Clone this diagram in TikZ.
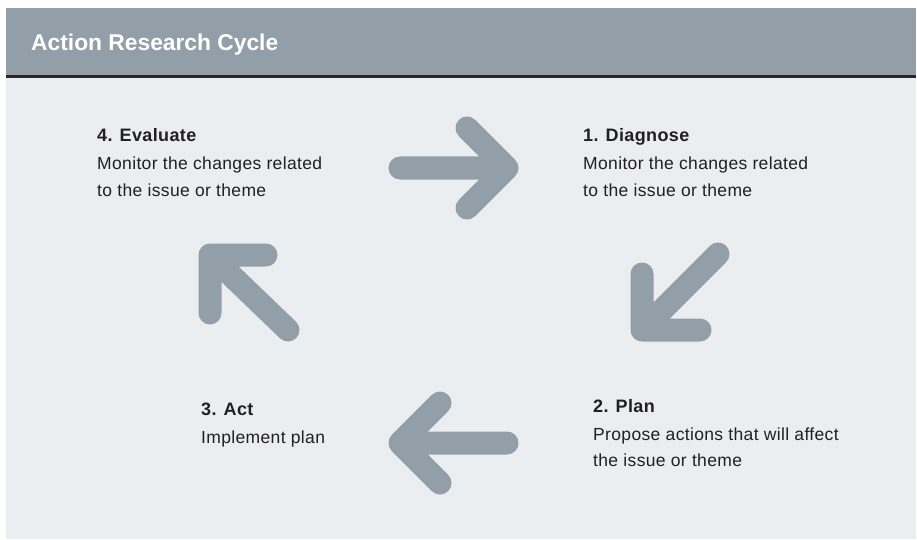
\documentclass[tikz,border=0pt]{standalone}
\usepackage{fontspec}
\setmainfont{Liberation Sans}[LetterSpace=2]
\newfontfamily\titlefont{Liberation Sans}
\usepackage{tikz}

\definecolor{bandgray}{HTML}{939FA8}
\definecolor{panelgray}{HTML}{EAEEF1}
\definecolor{rulegray}{HTML}{262626}
\definecolor{inkgray}{HTML}{231F20}

\tikzset{
  cyclearrow/.style={draw=bandgray,line width=23pt,line cap=round,line join=round},
  stephead/.style={anchor=base west,inner sep=0pt,text=inkgray,font=\bfseries\fontsize{18}{26}\selectfont},
  stepbody/.style={anchor=base west,inner sep=0pt,align=left,text=inkgray,font=\fontsize{17.5}{26}\selectfont}
}

\begin{document}
\begin{tikzpicture}[x=1pt,y=-1pt]
        \useasboundingbox (0,0) rectangle (917,540);
        \fill[white] (0,0) rectangle (917,540);

        % panel, header band and rule
        \fill[panelgray] (6,78) rectangle (916,539);
        \fill[bandgray] (6,8) rectangle (916,75);
        \fill[rulegray] (6,75) rectangle (916,78);
        \node[anchor=base west,inner sep=0pt,text=white,font=\titlefont\bfseries\fontsize{22.8}{26}\selectfont] (title) at (31,51) {Action Research Cycle};

        % arrows
        \draw[cyclearrow] (400,168) -- (507,168) (467,128) -- (507,168) -- (467,208);
        \draw[cyclearrow] (718,254) -- (642,330) (642,274) -- (642,330) -- (700,330);
        \draw[cyclearrow] (507,443) -- (400,443) (440,403) -- (400,443) -- (440,483);
        \draw[cyclearrow] (288,330) -- (210,255) (266,255) -- (210,255) -- (210,313);

        % steps (two-line texts sit on the baseline of their last line)
        \node[stephead] (diagnose) at (583,142) {1. Diagnose};
        \node[stepbody] (diagnosetext) at (583,196) {Monitor the changes related\\to the issue or theme};

        \node[stephead] (plan) at (593,412) {2. Plan};
        \node[stepbody] (plantext) at (593,466) {Propose actions that will affect\\the issue or theme};

        \node[stephead] (act) at (201,415) {3. Act};
        \node[stepbody] (acttext) at (201,443) {Implement plan};

        \node[stephead] (evaluate) at (97,142) {4. Evaluate};
        \node[stepbody] (evaluatetext) at (97,196) {Monitor the changes related\\to the issue or theme};
    \end{tikzpicture}
\end{document}
